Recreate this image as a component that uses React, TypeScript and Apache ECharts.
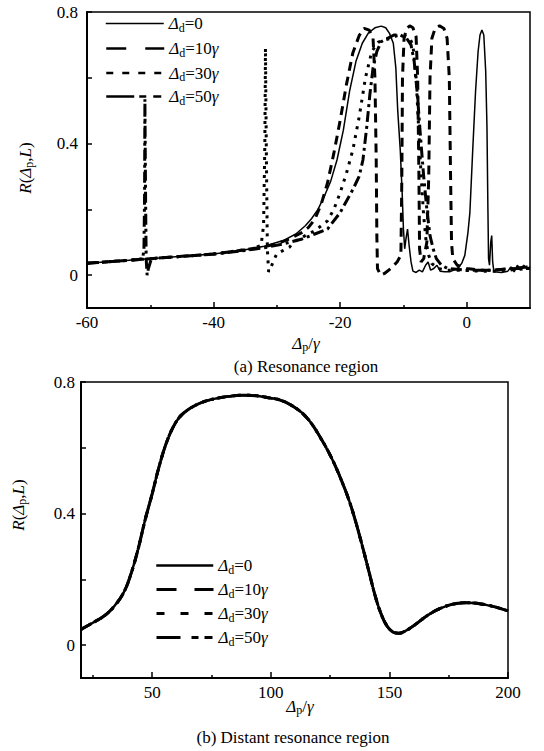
import React, { useEffect, useRef } from 'react';
import * as echarts from 'echarts';

const FONT = 'Liberation Serif';

// ---------- Panel (a): resonance region, [Δp/γ, R] ----------
const resD0: number[][] = [
  [-60, 0.036], [-55, 0.043], [-50, 0.05], [-45, 0.057], [-40, 0.064], [-35, 0.077], [-32, 0.088],
  [-29, 0.105], [-27, 0.125], [-25.5, 0.15], [-24.5, 0.172], [-23.5, 0.2], [-22.5, 0.24], [-21.5, 0.285],
  [-20.5, 0.35], [-19.5, 0.44], [-18.5, 0.56], [-17.5, 0.65], [-16.5, 0.705], [-15.5, 0.737], [-14.5, 0.752],
  [-13.5, 0.757], [-12.8, 0.752], [-12.2, 0.735], [-11.6, 0.705], [-11.2, 0.63], [-10.9, 0.5], [-10.5, 0.38],
  [-10.2, 0.25], [-10.0, 0.14], [-9.8, 0.08], [-9.6, 0.11], [-9.35, 0.14], [-9.1, 0.09], [-8.8, 0.04],
  [-8.5, 0.012], [-8.0, 0.008], [-7.5, 0.015], [-7.0, 0.01], [-6.5, 0.03], [-6.1, 0.04], [-5.7, 0.015],
  [-5.2, 0.02], [-4.7, 0.03], [-4.2, 0.012], [-3.5, 0.01], [-2.7, 0.01], [-1.5, 0.02], [-0.8, 0.035],
  [-0.3, 0.06], [0.2, 0.13], [0.5, 0.19], [0.95, 0.38], [1.4, 0.56], [1.8, 0.68], [2.1, 0.73], [2.4, 0.745],
  [2.7, 0.73], [3.0, 0.62], [3.2, 0.45], [3.35, 0.2], [3.45, 0.05], [3.6, 0.03], [3.8, 0.1], [3.95, 0.12],
  [4.1, 0.04], [4.3, 0.01], [5.5, 0.008], [6.5, 0.012], [7.0, 0.025], [7.5, 0.01], [8.0, 0.03],
  [8.5, 0.015], [9.0, 0.03], [9.5, 0.02], [10, 0.025],
];
const resD10: number[][] = [
  [-60, 0.036], [-55, 0.043], [-50, 0.05], [-45, 0.057], [-40, 0.064], [-35, 0.077], [-32, 0.086],
  [-30, 0.095], [-28, 0.11], [-26, 0.13], [-25, 0.145], [-24, 0.17], [-23, 0.215], [-22, 0.28],
  [-21, 0.37], [-20, 0.47], [-19, 0.58], [-18, 0.675], [-17, 0.728], [-16.2, 0.75], [-15.4, 0.745],
  [-14.8, 0.72], [-14.5, 0.6], [-14.3, 0.35], [-14.2, 0.12], [-14.1, 0.02], [-13.6, 0.0], [-13.0, 0.005],
  [-12.0, 0.02], [-11.0, 0.04], [-10.4, 0.06], [-10.25, 0.3], [-10.15, 0.6], [-9.9, 0.72], [-9.5, 0.75],
  [-9.0, 0.758], [-8.5, 0.752], [-8.0, 0.725], [-7.75, 0.6], [-7.55, 0.3], [-7.45, 0.08], [-7.2, 0.04],
  [-6.8, 0.05], [-6.3, 0.1], [-6.0, 0.3], [-5.8, 0.6], [-5.5, 0.72], [-5.0, 0.75], [-4.3, 0.758],
  [-3.6, 0.75], [-3.1, 0.72], [-2.75, 0.6], [-2.55, 0.3], [-2.4, 0.1], [-2.2, 0.05], [-1.5, 0.03],
  [0, 0.02], [2, 0.015], [4, 0.015], [6, 0.018], [8, 0.02], [10, 0.02],
];
const resD30: number[][] = [
  [-60, 0.036], [-50, 0.05], [-40, 0.064], [-34, 0.08], [-32.5, 0.09], [-32.1, 0.15], [-31.9, 0.4],
  [-31.8, 0.69], [-31.65, 0.35], [-31.5, 0.08], [-31.3, 0.01], [-31.0, 0.02], [-30.5, 0.045], [-30, 0.065],
  [-28, 0.085], [-27.4, 0.1], [-26, 0.115], [-24, 0.135], [-22, 0.165], [-21, 0.2], [-20, 0.25],
  [-19, 0.31], [-18, 0.38], [-17, 0.48], [-16, 0.6], [-15, 0.68], [-14, 0.708], [-13, 0.715],
  [-12, 0.72], [-11, 0.728], [-10, 0.73], [-9, 0.72], [-8.5, 0.7], [-8.0, 0.6], [-7.6, 0.45],
  [-7.2, 0.3], [-6.8, 0.18], [-6.4, 0.1], [-6.0, 0.06], [-5.5, 0.035], [-4.5, 0.02], [-3, 0.015],
  [-1, 0.015], [2, 0.012], [5, 0.012], [8, 0.018], [10, 0.02],
];
const resD50: number[][] = [
  [-60, 0.036], [-55, 0.043], [-52, 0.047], [-51.2, 0.05], [-51.0, 0.08], [-50.9, 0.25], [-50.85, 0.535],
  [-50.75, 0.25], [-50.65, 0.05], [-50.5, 0.0], [-50.3, 0.02], [-49.9, 0.045], [-49, 0.052], [-45, 0.057],
  [-40, 0.064], [-35, 0.075], [-32, 0.083], [-29, 0.095], [-26, 0.11], [-24, 0.125], [-22, 0.14],
  [-20, 0.19], [-18, 0.26], [-17, 0.3], [-16.4, 0.35], [-15.8, 0.45], [-15.3, 0.55], [-14.8, 0.63],
  [-14.2, 0.68], [-13.5, 0.71], [-12.5, 0.72], [-11.5, 0.73], [-10.5, 0.73], [-9.5, 0.72], [-8.8, 0.7],
  [-8.3, 0.65], [-7.8, 0.55], [-7.3, 0.42], [-6.8, 0.3], [-6.3, 0.2], [-5.8, 0.12], [-5.3, 0.08],
  [-4.8, 0.05], [-4, 0.03], [-3, 0.02], [0, 0.015], [4, 0.015], [7, 0.02], [10, 0.025],
];

// ---------- Panel (b): distant resonance region ----------
const farX = [20, 25, 30, 34, 38, 41, 44, 47, 50, 53, 56, 59, 62, 66, 71, 77, 83, 88, 94, 100, 104, 108,
  112, 115, 118, 121, 124, 127, 130, 133, 136, 139, 141.5, 144, 146.5, 149, 151.5, 154, 157, 161, 166, 171,
  176, 182, 188, 194, 200];
const farY = [0.048, 0.068, 0.09, 0.118, 0.16, 0.215, 0.29, 0.38, 0.46, 0.545, 0.615, 0.665, 0.697, 0.72,
  0.738, 0.75, 0.757, 0.76, 0.758, 0.751, 0.745, 0.732, 0.713, 0.693, 0.665, 0.63, 0.592, 0.548, 0.497,
  0.44, 0.37, 0.29, 0.22, 0.15, 0.095, 0.058, 0.04, 0.036, 0.044, 0.063, 0.09, 0.11, 0.123, 0.129, 0.126,
  0.117, 0.104];

// ---------- axes ----------
const xLabelsA = [-60, -40, -20, 0];
const xMinorA = [-50, -30, -10];
const xLabelsB = [50, 100, 150, 200];
const xMinorB = [25, 75, 125, 175];
const yLabels = [0, 0.4, 0.8];
const yTicks = [0, 0.2, 0.4, 0.6, 0.8];
const deltaD = ['0', '10', '30', '50'];

const rich = {
  n: { fontFamily: FONT, fontSize: 17, color: '#000', lineHeight: 20 },
  i: { fontFamily: FONT, fontSize: 17, color: '#000', fontStyle: 'italic', lineHeight: 20 },
  s: { fontFamily: FONT, fontSize: 12, color: '#000', lineHeight: 8, verticalAlign: 'bottom' },
};

const legendRich = (d: string) => `{i|Δ}{s|d}{n|=${d}}` + (d === '0' ? '' : '{i|γ}');

const seriesStylesA = [
  { width: 1.5, type: 'solid' as any },
  { width: 3, type: [9, 6] },
  { width: 3, type: [3, 6] },
  { width: 3, type: [11, 4, 3, 4] },
];
const legendStylesA = [
  { width: 1.5, type: 'solid' as any },
  { width: 2.5, type: [20, 19] },
  { width: 2.5, type: [7, 9] },
  { width: 2.5, type: [28, 5, 7, 7, 8, 30] },
];
const seriesStylesB = [
  { width: 2.5, type: 'solid' as any },
  { width: 3, type: [9, 6] },
  { width: 3, type: [3, 6] },
  { width: 3, type: [11, 4, 3, 4] },
];
const legendStylesB = [
  { width: 2.5, type: 'solid' as any },
  { width: 3, type: [20, 18] },
  { width: 3, type: [8, 16] },
  { width: 3, type: [24, 11, 7, 6, 8, 30] },
];

const axisFont = { color: '#000', fontSize: 17, fontFamily: FONT };

function xAxisPair(gridIndex: number, min: number, max: number, labels: number[], minor: number[]) {
  return [
    {
      gridIndex, type: 'value', min, max, position: 'bottom',
      axisLine: { show: true, onZero: false, lineStyle: { color: '#000', width: 2 } },
      axisTick: { show: true, inside: true, length: 6, customValues: labels, lineStyle: { color: '#000', width: 1.5 } },
      axisLabel: { ...axisFont, margin: 6, customValues: labels },
      splitLine: { show: false },
    },
    {
      gridIndex, type: 'value', min, max, position: 'bottom',
      axisLine: { show: false, onZero: false },
      axisTick: { show: true, inside: true, length: 3, customValues: minor, lineStyle: { color: '#000', width: 1.5 } },
      axisLabel: { show: false },
      splitLine: { show: false },
    },
  ];
}

function yAxis(gridIndex: number, margin: number) {
  return {
    gridIndex, type: 'value', min: -0.1, max: 0.8,
    axisLine: { show: true, onZero: false, lineStyle: { color: '#000', width: 2 } },
    axisTick: { show: true, inside: true, length: 5, customValues: yTicks, lineStyle: { color: '#000', width: 1.5 } },
    axisLabel: { ...axisFont, margin, customValues: yLabels },
    splitLine: { show: false },
  };
}

const App: React.FC = () => {
  const ref = useRef<HTMLDivElement>(null);
  useEffect(() => {
    if (!ref.current) return;
    const chart = echarts.init(ref.current, undefined, { renderer: 'svg' });
    const resData = [resD0, resD10, resD30, resD50];
    const farData = farX.map((x, k) => [x, farY[k]]);
    const series: any[] = [];
    resData.forEach((d, k) => {
      series.push({
        type: 'line', name: 'a' + k, xAxisIndex: 0, yAxisIndex: 0, data: d, symbol: 'none',
        lineStyle: { color: '#000', ...seriesStylesA[k] }, z: 5 - k,
      });
    });
    [0, 1, 2, 3].forEach((k) => {
      series.push({
        type: 'line', name: 'b' + k, xAxisIndex: 2, yAxisIndex: 1, data: farData, symbol: 'none', smooth: 0.4,
        lineStyle: { color: '#000', ...seriesStylesB[k] }, z: 5 - k,
      });
    });
    const legendRowsA = [25, 50, 74.5, 98];
    const legendRowsB = [567, 591, 615, 639];
    const legends: any[] = [];
    deltaD.forEach((d, k) => {
      legends.push({
        show: true, left: 105, top: legendRowsA[k] - 10, padding: 0, itemWidth: 58, itemHeight: 20,
        selectedMode: false, data: ['a' + k], formatter: () => legendRich(d),
        textStyle: { rich, fontFamily: FONT }, lineStyle: { ...legendStylesA[k], color: '#000' }, itemStyle: { opacity: 0 },
      });
      legends.push({
        show: true, left: 155, top: legendRowsB[k] - 10, padding: 0, itemWidth: 57, itemHeight: 20,
        selectedMode: false, data: ['b' + k], formatter: () => legendRich(d),
        textStyle: { rich, fontFamily: FONT }, lineStyle: { ...legendStylesB[k], color: '#000' }, itemStyle: { opacity: 0 },
      });
    });
    const yName = '{i|R}{n|(}{i|Δ}{s|p}{n|,}{i|L}{n|)}';
    const xName = '{i|Δ}{s|p}{n|/}{i|γ}';
    const option: any = {
      animation: false,
      backgroundColor: '#fff',
      textStyle: { fontFamily: FONT },
      grid: [
        { left: 87, top: 12, width: 443, height: 296, show: true, borderColor: '#000', borderWidth: 1.5, containLabel: false },
        { left: 81, top: 382, width: 427, height: 296, show: true, borderColor: '#000', borderWidth: 1.5, containLabel: false },
      ],
      xAxis: [...xAxisPair(0, -60, 10, xLabelsA, xMinorA), ...xAxisPair(1, 20, 200, xLabelsB, xMinorB)],
      yAxis: [yAxis(0, 9), yAxis(1, 6)],
      legend: legends,
      series,
      graphic: [
        { type: 'text', x: 25, y: 168, rotation: Math.PI / 2, style: { text: yName, rich, align: 'center', verticalAlign: 'middle' } },
        { type: 'text', x: 18, y: 505, rotation: Math.PI / 2, style: { text: yName, rich, align: 'center', verticalAlign: 'middle' } },
        { type: 'text', x: 306, y: 343, style: { text: xName, rich, align: 'center', verticalAlign: 'middle' } },
        { type: 'text', x: 300, y: 706, style: { text: xName, rich, align: 'center', verticalAlign: 'middle' } },
        { type: 'text', x: 306, y: 366, style: { text: '(a) Resonance region', fill: '#000', fontFamily: FONT, fontSize: 17, align: 'center', verticalAlign: 'middle' } },
        { type: 'text', x: 293, y: 737, style: { text: '(b) Distant resonance region', fill: '#000', fontFamily: FONT, fontSize: 17, align: 'center', verticalAlign: 'middle' } },
      ],
    };
    chart.setOption(option);
    return () => chart.dispose();
  }, []);
  return (
    <div
      ref={ref}
      style={{ position: 'absolute', left: 0, top: 0, width: 544, height: 751, background: '#fff' }}
    />
  );
};

export default App;
